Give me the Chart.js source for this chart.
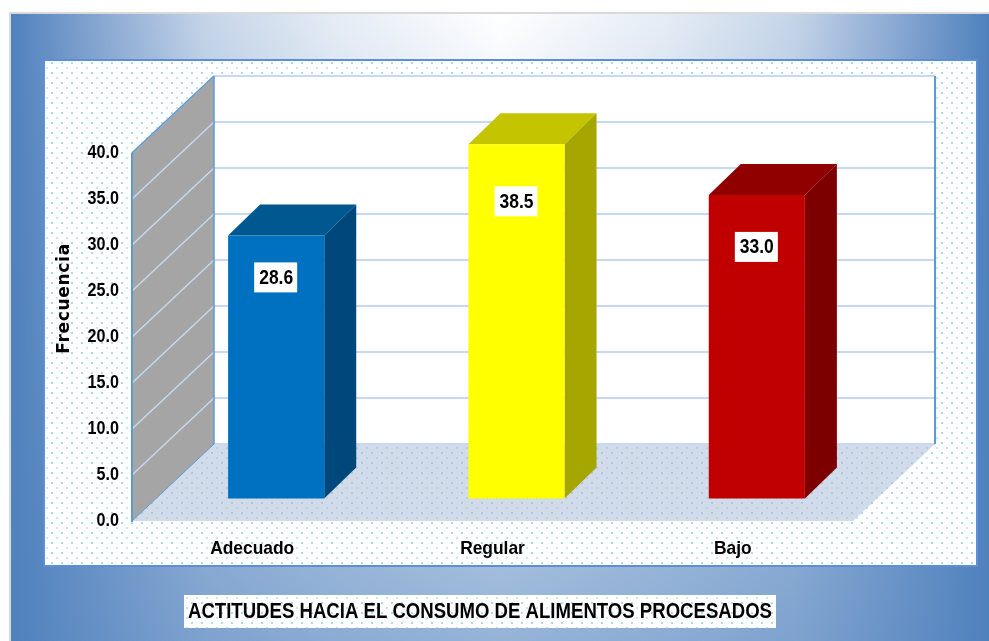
<!DOCTYPE html>
<html>
<head>
<meta charset="utf-8">
<script src="https://cdn.jsdelivr.net/npm/chart.js@4"></script>
<style>
html,body{margin:0;padding:0;background:#fff;width:989px;height:641px;overflow:hidden}
#bg{position:absolute;left:9px;top:12px;width:980px;height:629px;box-sizing:border-box;
 border-top:2px solid #d9d9d9;border-left:2px solid #d9d9d9;
 background:linear-gradient(to bottom,rgba(79,129,189,0) 0%,rgba(79,129,189,.6) 100%),
 linear-gradient(to right,#4f81bd 0%,#8dabd4 10%,#c5d5e8 20%,#e5ecf5 33%,#ffffff 50%,#e5ecf5 67%,#c5d5e8 80%,#8dabd4 90%,#4f81bd 100%)}
canvas{position:absolute;left:0;top:0}
</style>
</head>
<body>
<div id="bg"></div>
<canvas id="c" width="989" height="641"></canvas>
<script>
const categories = ["Adecuado", "Regular", "Bajo"];
const values = [28.6, 38.5, 33.0];
const frontColors = ["#0070C0", "#FFFF00", "#C00000"];
const sideColors = ["#00487C", "#A6A600", "#7C0000"];
const topColors = ["#005890", "#C4C400", "#900000"];
const yTitle = "Frecuencia";
const chartTitle = "ACTITUDES HACIA EL CONSUMO DE ALIMENTOS PROCESADOS";
const tickMax = 40, tickStep = 5;
const labelDrops = [42, 57, 52];

const wallDX = 82, wallDY = 77;
const barShiftX = 24, barShiftY = 22.5;
const barDX = 32, barDY = 31;
const BLUE = "#5b9bd5", GRID = "#c6d9f1";
const SANS = "'Liberation Sans'";

function dotPattern(ctx) {
  const t = document.createElement("canvas");
  t.width = 10; t.height = 10;
  const g = t.getContext("2d");
  g.fillStyle = "#fff"; g.fillRect(0, 0, 10, 10);
  g.fillStyle = "#aedbe9";
  g.fillRect(1, 2, 2, 2);
  g.fillStyle = "#c6e6f0";
  g.fillRect(6, 7, 2, 2);
  return ctx.createPattern(t, "repeat");
}
function poly(ctx, pts, fill) {
  ctx.beginPath();
  pts.forEach((p, i) => i ? ctx.lineTo(p[0], p[1]) : ctx.moveTo(p[0], p[1]));
  ctx.closePath();
  ctx.fillStyle = fill;
  ctx.fill();
}
function seg(ctx, a, b, color, w) {
  ctx.beginPath(); ctx.moveTo(a[0], a[1]); ctx.lineTo(b[0], b[1]);
  ctx.strokeStyle = color; ctx.lineWidth = w; ctx.stroke();
}
// Squeeze a scale's tick text horizontally, as in the reference's narrow lettering.
function condenseLabels(scale, factor) {
  if (scale._condensed) return;
  scale._condensed = true;
  const draw = scale.drawLabels;
  scale.drawLabels = function () {
    const ctx = this.ctx;
    const orig = ctx.fillText;
    ctx.fillText = function (text, x, y) {
      orig.call(ctx, text, x, y, ctx.measureText(text).width * factor);
    };
    draw.apply(this, arguments);
    delete ctx.fillText;
  };
}

const scene = {
  id: "scene",
  afterLayout(chart) {
    chart.titleBlock.left = 188;
    chart.titleBlock.right = 772;
  },
  beforeDraw(chart) {
    const ctx = chart.ctx, a = chart.chartArea, y = chart.scales.y;
    const pat = dotPattern(ctx);
    ctx.save();
    // panel
    ctx.fillStyle = pat; ctx.fillRect(44, 60, 933, 506);
    ctx.strokeStyle = "#5b8fd8"; ctx.lineWidth = 2; ctx.strokeRect(44, 60, 933, 506);
    // title box
    ctx.fillStyle = pat; ctx.fillRect(184, 595, 592, 33);
    const y0 = y.getPixelForValue(0), yTop = y.getPixelForValue(tickMax);
    const L = a.left, R = a.right;
    // back wall
    ctx.fillStyle = "#fff";
    ctx.fillRect(L + wallDX, yTop - wallDY, R - L, y0 - yTop);
    // floor
    poly(ctx, [[L, y0], [L + wallDX, y0 - wallDY], [R + wallDX, y0 - wallDY], [R, y0]], "rgba(166,184,212,0.5)");
    // side wall
    poly(ctx, [[L, y0], [L + wallDX, y0 - wallDY], [L + wallDX, yTop - wallDY], [L, yTop]], "#a5a5a5");
    // gridlines
    for (let v = 0; v <= tickMax; v += tickStep) {
      const p = y.getPixelForValue(v);
      if (v > 0) seg(ctx, [L, p], [L + wallDX, p - wallDY], GRID, 1.5);
      seg(ctx, [L + wallDX, p - wallDY], [R + wallDX, p - wallDY], GRID, 2);
    }
    // wall edges
    seg(ctx, [L, y0 + 1], [L, yTop], BLUE, 2);
    seg(ctx, [L, y0], [L + wallDX, y0 - wallDY], BLUE, 1);
    seg(ctx, [L, yTop], [L + wallDX, yTop - wallDY], BLUE, 1.5);
    seg(ctx, [L + wallDX, y0 - wallDY], [L + wallDX, yTop - wallDY], BLUE, 1.5);
    seg(ctx, [R + wallDX, y0 - wallDY], [R + wallDX, yTop - wallDY], BLUE, 2);
    ctx.restore();
  },
  beforeDatasetDraw(chart, args) {
    const ctx = chart.ctx;
    ctx.save();
    ctx.translate(barShiftX, -barShiftY);
    args.meta.data.forEach((b, i) => {
      const l = b.x - b.width / 2, r = b.x + b.width / 2;
      poly(ctx, [[l, b.y], [l + barDX, b.y - barDY], [r + barDX, b.y - barDY], [r, b.y]], topColors[i]);
      poly(ctx, [[r, b.y], [r + barDX, b.y - barDY], [r + barDX, b.base - barDY], [r, b.base]], sideColors[i]);
    });
  },
  afterDatasetDraw(chart) {
    chart.ctx.restore();
  },
  afterDatasetsDraw(chart) {
    const ctx = chart.ctx;
    ctx.save();
    ctx.font = "bold 20px " + SANS;
    ctx.textAlign = "center";
    ctx.textBaseline = "middle";
    chart.getDatasetMeta(0).data.forEach((b, i) => {
      const cx = b.x + barShiftX, cy = b.y - barShiftY + labelDrops[i];
      ctx.fillStyle = "#fff";
      ctx.fillRect(cx - 22, cy - 15, 43, 30);
      ctx.fillStyle = "#000";
      ctx.fillText(values[i].toFixed(1), cx, cy + 1, 34);
    });
    ctx.restore();
  }
};

new Chart(document.getElementById("c"), {
  type: "bar",
  data: {
    labels: categories,
    datasets: [{
      data: values,
      backgroundColor: frontColors,
      borderWidth: 0,
      barPercentage: 0.4,
      categoryPercentage: 1,
      clip: false
    }]
  },
  plugins: [scene],
  options: {
    responsive: false,
    animation: false,
    layout: { padding: { left: 44, right: 136, top: 76, bottom: 17 } },
    plugins: {
      legend: { display: false },
      tooltip: { enabled: false },
      title: {
        display: true,
        text: chartTitle,
        position: "bottom",
        color: "#000",
        font: { family: SANS, size: 21.5, weight: "bold", lineHeight: 1.115 },
        padding: 0
      }
    },
    scales: {
      x: {
        grid: { display: false },
        border: { display: false },
        ticks: { color: "#000", padding: 8, font: { family: SANS, size: 19, weight: "bold" }, maxRotation: 0 },
        afterFit(s) { s.height = 79; condenseLabels(s, 0.915); }
      },
      y: {
        min: 0,
        max: 445 / 9.2,
        afterBuildTicks(s) {
          const t = [];
          for (let v = 0; v <= tickMax; v += tickStep) t.push({ value: v });
          s.ticks = t;
        },
        afterFit(s) {
          s.width = 88;
          condenseLabels(s, 0.85);
          if (!s._spaced) {
            s._spaced = true;
            const draw = s.drawTitle;
            s.drawTitle = function () {
              this.ctx.letterSpacing = "0.7px";
              draw.apply(this, arguments);
              this.ctx.letterSpacing = "0px";
            };
          }
        },
        grid: { display: false },
        border: { display: false },
        ticks: {
          color: "#000",
          padding: 5,
          font: { family: SANS, size: 19, weight: "bold" },
          callback: v => Number(v).toFixed(1)
        },
        title: {
          display: true,
          text: yTitle,
          color: "#000",
          padding: { top: 10, bottom: 0 },
          font: { family: "'DejaVu Sans'", size: 17, weight: "bold" }
        }
      }
    }
  }
});
</script>
</body>
</html>
